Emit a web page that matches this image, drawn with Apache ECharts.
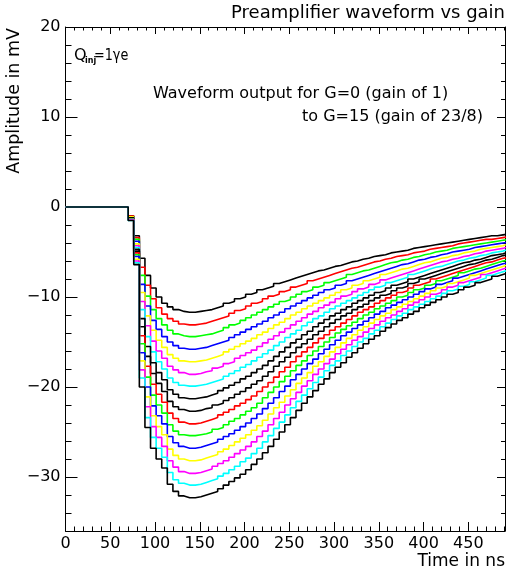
<!DOCTYPE html>
<html>
<head>
<meta charset="utf-8">
<script src="https://cdn.jsdelivr.net/npm/echarts@6/dist/echarts.min.js"></script>
<style>
  html, body { margin: 0; padding: 0; background: #ffffff; }
  #chart { width: 506px; height: 575px; }
</style>
</head>
<body>
<div id="chart"></div>
<script>
// Histogram binning of the sampled waveforms (ns)
const binStartNs = 70;
const binWidthNs = 6.25;

// Gain settings, G=0 (gain 1) ... G=15 (gain 23/8)
const gainSettings = ['G=0','G=1','G=2','G=3','G=4','G=5','G=6','G=7',
                      'G=8','G=9','G=10','G=11','G=12','G=13','G=14','G=15'];

// Amplitude per time bin, in mV (baseline is 0 before the first bin)
const ampG0 = [-1.0,-3.2,-5.7,-7.6,-9.0,-10.0,-10.7,-11.1,-11.4,-11.6,-11.7,-11.7,-11.6,-11.5,-11.4,-11.2,-11.0,-10.7,-10.5,-10.2,-10.0,-9.7,-9.5,-9.2,-9.0,-8.8,-8.5,-8.3,-8.1,-7.9,-7.7,-7.5,-7.3,-7.1,-7.0,-6.8,-6.6,-6.5,-6.3,-6.1,-6.0,-5.8,-5.7,-5.5,-5.4,-5.3,-5.1,-5.0,-4.9,-4.8,-4.6,-4.5,-4.4,-4.3,-4.2,-4.1,-4.0,-3.9,-3.8,-3.7,-3.6,-3.5,-3.4,-3.3,-3.2,-3.2,-3.1,-3.0];
const ampG1 = [-1.0,-3.4,-6.7,-8.7,-10.2,-11.2,-11.9,-12.4,-12.7,-13.0,-13.1,-13.1,-13.0,-12.9,-12.7,-12.5,-12.3,-12.1,-11.8,-11.5,-11.3,-11.0,-10.7,-10.5,-10.2,-9.9,-9.7,-9.4,-9.2,-8.9,-8.7,-8.5,-8.2,-8.0,-7.8,-7.6,-7.4,-7.2,-7.0,-6.8,-6.7,-6.5,-6.3,-6.1,-6.0,-5.8,-5.7,-5.5,-5.4,-5.3,-5.1,-5.0,-4.9,-4.7,-4.6,-4.5,-4.4,-4.3,-4.1,-4.0,-3.9,-3.8,-3.7,-3.6,-3.6,-3.5,-3.4,-3.3];
const ampG2 = [-1.1,-3.6,-7.6,-9.9,-11.4,-12.4,-13.1,-13.7,-14.1,-14.3,-14.4,-14.4,-14.3,-14.2,-14.1,-13.9,-13.7,-13.4,-13.1,-12.9,-12.6,-12.3,-12.0,-11.7,-11.4,-11.1,-10.8,-10.5,-10.3,-10.0,-9.7,-9.4,-9.2,-8.9,-8.7,-8.4,-8.2,-8.0,-7.8,-7.5,-7.3,-7.1,-7.0,-6.8,-6.6,-6.4,-6.2,-6.1,-5.9,-5.8,-5.6,-5.5,-5.3,-5.2,-5.0,-4.9,-4.8,-4.6,-4.5,-4.4,-4.3,-4.2,-4.1,-4.0,-3.9,-3.8,-3.7,-3.6];
const ampG3 = [-1.1,-3.8,-8.6,-11.0,-12.6,-13.6,-14.4,-15.0,-15.4,-15.7,-15.8,-15.8,-15.7,-15.6,-15.4,-15.2,-15.0,-14.8,-14.5,-14.2,-13.9,-13.6,-13.3,-13.0,-12.7,-12.3,-12.0,-11.7,-11.3,-11.0,-10.7,-10.4,-10.1,-9.8,-9.5,-9.2,-9.0,-8.7,-8.5,-8.2,-8.0,-7.8,-7.6,-7.4,-7.2,-7.0,-6.8,-6.6,-6.4,-6.3,-6.1,-5.9,-5.8,-5.6,-5.5,-5.3,-5.2,-5.0,-4.9,-4.8,-4.7,-4.5,-4.4,-4.3,-4.2,-4.1,-4.0,-3.9];
const ampG4 = [-1.1,-4.1,-9.5,-12.1,-13.7,-14.8,-15.6,-16.4,-16.8,-17.1,-17.2,-17.2,-17.1,-17.0,-16.8,-16.6,-16.4,-16.1,-15.8,-15.5,-15.2,-14.9,-14.6,-14.2,-13.9,-13.5,-13.1,-12.8,-12.4,-12.0,-11.7,-11.3,-11.0,-10.7,-10.4,-10.1,-9.8,-9.5,-9.2,-9.0,-8.7,-8.5,-8.2,-8.0,-7.8,-7.5,-7.3,-7.1,-6.9,-6.8,-6.6,-6.4,-6.2,-6.1,-5.9,-5.7,-5.6,-5.4,-5.3,-5.1,-5.0,-4.9,-4.7,-4.6,-4.5,-4.4,-4.3,-4.1];
const ampG5 = [-1.2,-4.3,-10.5,-13.2,-14.9,-16.0,-16.8,-17.7,-18.1,-18.4,-18.6,-18.6,-18.5,-18.3,-18.2,-17.9,-17.7,-17.4,-17.2,-16.8,-16.5,-16.2,-15.9,-15.5,-15.1,-14.7,-14.3,-13.9,-13.5,-13.1,-12.7,-12.3,-11.9,-11.6,-11.2,-10.9,-10.6,-10.2,-9.9,-9.7,-9.4,-9.1,-8.9,-8.6,-8.4,-8.1,-7.9,-7.7,-7.5,-7.3,-7.1,-6.9,-6.7,-6.5,-6.3,-6.1,-6.0,-5.8,-5.7,-5.5,-5.4,-5.2,-5.1,-4.9,-4.8,-4.7,-4.6,-4.4];
const ampG6 = [-1.2,-4.5,-11.4,-14.4,-16.1,-17.2,-18.0,-19.0,-19.5,-19.8,-19.9,-19.9,-19.8,-19.7,-19.5,-19.3,-19.1,-18.8,-18.5,-18.2,-17.8,-17.5,-17.1,-16.7,-16.3,-15.9,-15.4,-15.0,-14.5,-14.1,-13.7,-13.2,-12.8,-12.4,-12.1,-11.7,-11.3,-11.0,-10.7,-10.4,-10.1,-9.8,-9.5,-9.2,-8.9,-8.7,-8.4,-8.2,-8.0,-7.8,-7.5,-7.3,-7.1,-6.9,-6.7,-6.6,-6.4,-6.2,-6.0,-5.9,-5.7,-5.6,-5.4,-5.3,-5.1,-5.0,-4.9,-4.7];
const ampG7 = [-1.2,-4.7,-12.4,-15.5,-17.3,-18.4,-19.2,-20.3,-20.8,-21.2,-21.3,-21.3,-21.2,-21.1,-20.9,-20.7,-20.4,-20.1,-19.8,-19.5,-19.1,-18.8,-18.4,-18.0,-17.6,-17.1,-16.6,-16.1,-15.6,-15.1,-14.7,-14.2,-13.8,-13.3,-12.9,-12.5,-12.1,-11.8,-11.4,-11.1,-10.7,-10.4,-10.1,-9.8,-9.5,-9.3,-9.0,-8.7,-8.5,-8.3,-8.0,-7.8,-7.6,-7.4,-7.2,-7.0,-6.8,-6.6,-6.4,-6.2,-6.1,-5.9,-5.8,-5.6,-5.4,-5.3,-5.2,-5.0];
const ampG8 = [-1.3,-4.9,-13.3,-16.6,-18.5,-19.6,-20.5,-21.6,-22.2,-22.5,-22.7,-22.7,-22.6,-22.4,-22.3,-22.0,-21.8,-21.5,-21.2,-20.8,-20.5,-20.1,-19.7,-19.3,-18.8,-18.3,-17.7,-17.2,-16.7,-16.2,-15.6,-15.2,-14.7,-14.2,-13.8,-13.3,-12.9,-12.5,-12.1,-11.8,-11.4,-11.1,-10.8,-10.4,-10.1,-9.8,-9.6,-9.3,-9.0,-8.8,-8.5,-8.3,-8.0,-7.8,-7.6,-7.4,-7.2,-7.0,-6.8,-6.6,-6.4,-6.3,-6.1,-5.9,-5.8,-5.6,-5.4,-5.3];
const ampG9 = [-1.3,-5.1,-14.3,-17.7,-19.7,-20.8,-21.7,-22.9,-23.5,-23.9,-24.1,-24.1,-24.0,-23.8,-23.6,-23.4,-23.1,-22.8,-22.5,-22.1,-21.8,-21.4,-21.0,-20.5,-20.0,-19.5,-18.9,-18.3,-17.8,-17.2,-16.6,-16.1,-15.6,-15.1,-14.6,-14.2,-13.7,-13.3,-12.9,-12.5,-12.1,-11.7,-11.4,-11.1,-10.7,-10.4,-10.1,-9.8,-9.5,-9.3,-9.0,-8.7,-8.5,-8.3,-8.0,-7.8,-7.6,-7.4,-7.2,-7.0,-6.8,-6.6,-6.4,-6.2,-6.1,-5.9,-5.7,-5.6];
const ampG10 = [-1.3,-5.3,-15.2,-18.9,-20.9,-22.0,-22.9,-24.2,-24.9,-25.3,-25.4,-25.4,-25.3,-25.2,-25.0,-24.7,-24.5,-24.2,-23.8,-23.5,-23.1,-22.7,-22.3,-21.8,-21.2,-20.6,-20.0,-19.4,-18.8,-18.2,-17.6,-17.1,-16.5,-16.0,-15.5,-15.0,-14.5,-14.0,-13.6,-13.2,-12.8,-12.4,-12.0,-11.7,-11.3,-11.0,-10.7,-10.4,-10.0,-9.8,-9.5,-9.2,-9.0,-8.7,-8.5,-8.2,-8.0,-7.8,-7.6,-7.3,-7.1,-6.9,-6.8,-6.6,-6.4,-6.2,-6.0,-5.9];
const ampG11 = [-1.4,-5.5,-16.2,-20.0,-22.1,-23.2,-24.1,-25.5,-26.2,-26.6,-26.8,-26.8,-26.7,-26.5,-26.3,-26.1,-25.8,-25.5,-25.2,-24.8,-24.4,-24.0,-23.5,-23.0,-22.4,-21.8,-21.2,-20.5,-19.9,-19.2,-18.6,-18.0,-17.4,-16.9,-16.3,-15.8,-15.3,-14.8,-14.3,-13.9,-13.5,-13.1,-12.7,-12.3,-11.9,-11.6,-11.2,-10.9,-10.6,-10.3,-10.0,-9.7,-9.4,-9.1,-8.9,-8.6,-8.4,-8.2,-7.9,-7.7,-7.5,-7.3,-7.1,-6.9,-6.7,-6.5,-6.3,-6.2];
const ampG12 = [-1.4,-5.8,-17.1,-21.1,-23.2,-24.4,-25.3,-26.9,-27.6,-28.0,-28.2,-28.2,-28.1,-27.9,-27.7,-27.5,-27.2,-26.9,-26.5,-26.1,-25.7,-25.3,-24.8,-24.3,-23.7,-23.0,-22.3,-21.7,-21.0,-20.3,-19.6,-19.0,-18.4,-17.7,-17.2,-16.6,-16.1,-15.6,-15.1,-14.6,-14.2,-13.7,-13.3,-12.9,-12.5,-12.1,-11.8,-11.4,-11.1,-10.8,-10.5,-10.2,-9.9,-9.6,-9.3,-9.0,-8.8,-8.5,-8.3,-8.1,-7.9,-7.6,-7.4,-7.2,-7.0,-6.8,-6.6,-6.4];
const ampG13 = [-1.4,-6.0,-18.1,-22.2,-24.4,-25.6,-26.6,-28.2,-28.9,-29.4,-29.6,-29.6,-29.5,-29.3,-29.1,-28.8,-28.5,-28.2,-27.8,-27.4,-27.0,-26.6,-26.1,-25.5,-24.9,-24.2,-23.5,-22.8,-22.0,-21.3,-20.6,-19.9,-19.3,-18.6,-18.0,-17.4,-16.9,-16.3,-15.8,-15.3,-14.8,-14.4,-13.9,-13.5,-13.1,-12.7,-12.3,-12.0,-11.6,-11.3,-10.9,-10.6,-10.3,-10.0,-9.7,-9.5,-9.2,-8.9,-8.7,-8.4,-8.2,-8.0,-7.8,-7.5,-7.3,-7.1,-6.9,-6.7];
const ampG14 = [-1.5,-6.2,-19.0,-23.4,-25.6,-26.8,-27.8,-29.5,-30.3,-30.7,-30.9,-30.9,-30.8,-30.6,-30.4,-30.2,-29.9,-29.6,-29.2,-28.8,-28.3,-27.9,-27.4,-26.8,-26.1,-25.4,-24.6,-23.9,-23.1,-22.3,-21.6,-20.9,-20.2,-19.5,-18.9,-18.2,-17.6,-17.1,-16.5,-16.0,-15.5,-15.0,-14.6,-14.1,-13.7,-13.3,-12.9,-12.5,-12.1,-11.8,-11.4,-11.1,-10.8,-10.5,-10.2,-9.9,-9.6,-9.3,-9.1,-8.8,-8.6,-8.3,-8.1,-7.9,-7.6,-7.4,-7.2,-7.0];
const ampG15 = [-1.5,-6.4,-20.0,-24.5,-26.8,-28.0,-29.0,-30.8,-31.6,-32.1,-32.3,-32.3,-32.2,-32.0,-31.8,-31.6,-31.3,-30.9,-30.5,-30.1,-29.7,-29.2,-28.6,-28.0,-27.3,-26.6,-25.8,-25.0,-24.2,-23.4,-22.6,-21.8,-21.1,-20.4,-19.7,-19.1,-18.4,-17.8,-17.3,-16.7,-16.2,-15.7,-15.2,-14.7,-14.3,-13.8,-13.4,-13.0,-12.6,-12.3,-11.9,-11.6,-11.2,-10.9,-10.6,-10.3,-10.0,-9.7,-9.5,-9.2,-8.9,-8.7,-8.4,-8.2,-8.0,-7.7,-7.5,-7.3];

const waveforms = [ampG0, ampG1, ampG2, ampG3, ampG4, ampG5, ampG6, ampG7,
                   ampG8, ampG9, ampG10, ampG11, ampG12, ampG13, ampG14, ampG15];

// Line colour of each gain setting
const lineColors = ['#000000','#ff0000','#00ff00','#0000ff','#ffff00','#ff00ff','#00ffff','#000000',
                    '#000000','#ff0000','#00ff00','#0000ff','#ffff00','#ff00ff','#00ffff','#000000'];

// Axis ranges and tick values
const timeRange = [0, 491];
const ampRange = [-36, 20];
const timeTicks = [0, 50, 100, 150, 200, 250, 300, 350, 400, 450];
const timeMinorTicks = [];
for (let t = 10; t < timeRange[1]; t += 10) if (t % 50 !== 0) timeMinorTicks.push(t);
const ampTicks = [-30, -20, -10, 0, 10, 20];
const ampMinorTicks = [];
for (let a = -34; a < ampRange[1]; a += 2) if (a % 10 !== 0) ampMinorTicks.push(a);

const FONT = 'DejaVu Sans';
const INK = '#000000';

function toHistogramPoints(values) {
  const pts = [[timeRange[0], 0]];
  values.forEach((v, k) => pts.push([binStartNs + k * binWidthNs, v]));
  pts.push([binStartNs + values.length * binWidthNs, values[values.length - 1]]);
  return pts;
}

function timeAxis(position, ticks, tickLen, withLabels, withLine) {
  return {
    type: 'value', position: position, min: timeRange[0], max: timeRange[1],
    axisLine: { show: withLine, onZero: false, lineStyle: { color: INK, width: 1 } },
    axisTick: { show: true, inside: true, length: tickLen, customValues: ticks,
                lineStyle: { color: INK, width: 1 } },
    axisLabel: { show: withLabels, customValues: ticks, color: INK, fontFamily: FONT,
                 fontSize: 16, margin: 5 },
    splitLine: { show: false }
  };
}

function ampAxis(position, ticks, tickLen, withLabels, withLine) {
  return {
    type: 'value', position: position, min: ampRange[0], max: ampRange[1],
    axisLine: { show: withLine, onZero: false, lineStyle: { color: INK, width: 1 } },
    axisTick: { show: true, inside: true, length: tickLen, customValues: ticks,
                lineStyle: { color: INK, width: 1 } },
    axisLabel: { show: withLabels, customValues: ticks, color: INK, fontFamily: FONT,
                 fontSize: 16, margin: 5,
                 formatter: v => (v < 0 ? '\u2212' + Math.abs(v) : String(v)) },
    splitLine: { show: false }
  };
}

const chart = echarts.init(document.getElementById('chart'), null, { renderer: 'canvas' });

chart.setOption({
  backgroundColor: '#ffffff',
  animation: false,
  grid: { left: 65.5, right: 1, top: 27, bottom: 44, containLabel: false },
  xAxis: [
    timeAxis('bottom', timeTicks, 9, true, true),
    timeAxis('bottom', timeMinorTicks, 4.5, false, false),
    timeAxis('top', timeTicks, 7, false, true),
    timeAxis('top', timeMinorTicks, 3.5, false, false)
  ],
  yAxis: [
    ampAxis('left', ampTicks, 12, true, true),
    ampAxis('left', ampMinorTicks, 6, false, false),
    ampAxis('right', ampTicks, 8, false, true),
    ampAxis('right', ampMinorTicks, 4, false, false)
  ],
  series: waveforms.map((vals, i) => ({
    name: gainSettings[i],
    type: 'line',
    xAxisIndex: 0,
    yAxisIndex: 0,
    step: 'end',
    symbol: 'none',
    clip: true,
    silent: true,
    lineStyle: { color: lineColors[i], width: 1.6 },
    data: toHistogramPoints(vals)
  })),
  graphic: [
    { type: 'text', x: 505, y: 13,
      style: { text: 'Preamplifier waveform vs gain', font: '18px "' + FONT + '"',
               fill: INK, align: 'right', verticalAlign: 'middle' } },
    { type: 'text', x: 14, y: 28, rotation: Math.PI / 2,
      style: { text: 'Amplitude in mV', font: '17.5px "' + FONT + '"',
               fill: INK, align: 'right', verticalAlign: 'middle' } },
    { type: 'text', x: 505, y: 562,
      style: { text: 'Time in ns', font: '17px "' + FONT + '"',
               fill: INK, align: 'right', verticalAlign: 'middle' } },
    { type: 'text', x: 74, y: 56,
      style: { text: 'Q', font: '16px "' + FONT + '"', fill: INK, align: 'left', verticalAlign: 'middle' } },
    { type: 'text', x: 85, y: 61,
      style: { text: 'inj', font: 'bold 8px "' + FONT + '"', fill: INK, align: 'left', verticalAlign: 'middle' } },
    { type: 'text', x: 94, y: 56, scaleX: 0.8,
      style: { text: '=1\u03b3e', font: '16px "' + FONT + '"', fill: INK, align: 'left', verticalAlign: 'middle' } },
    { type: 'text', x: 153, y: 94,
      style: { text: 'Waveform output for G=0 (gain of 1)', font: '16px "' + FONT + '"',
               fill: INK, align: 'left', verticalAlign: 'middle' } },
    { type: 'text', x: 302, y: 117,
      style: { text: 'to G=15 (gain of 23/8)', font: '16px "' + FONT + '"',
               fill: INK, align: 'left', verticalAlign: 'middle' } }
  ]
});
</script>
</body>
</html>
